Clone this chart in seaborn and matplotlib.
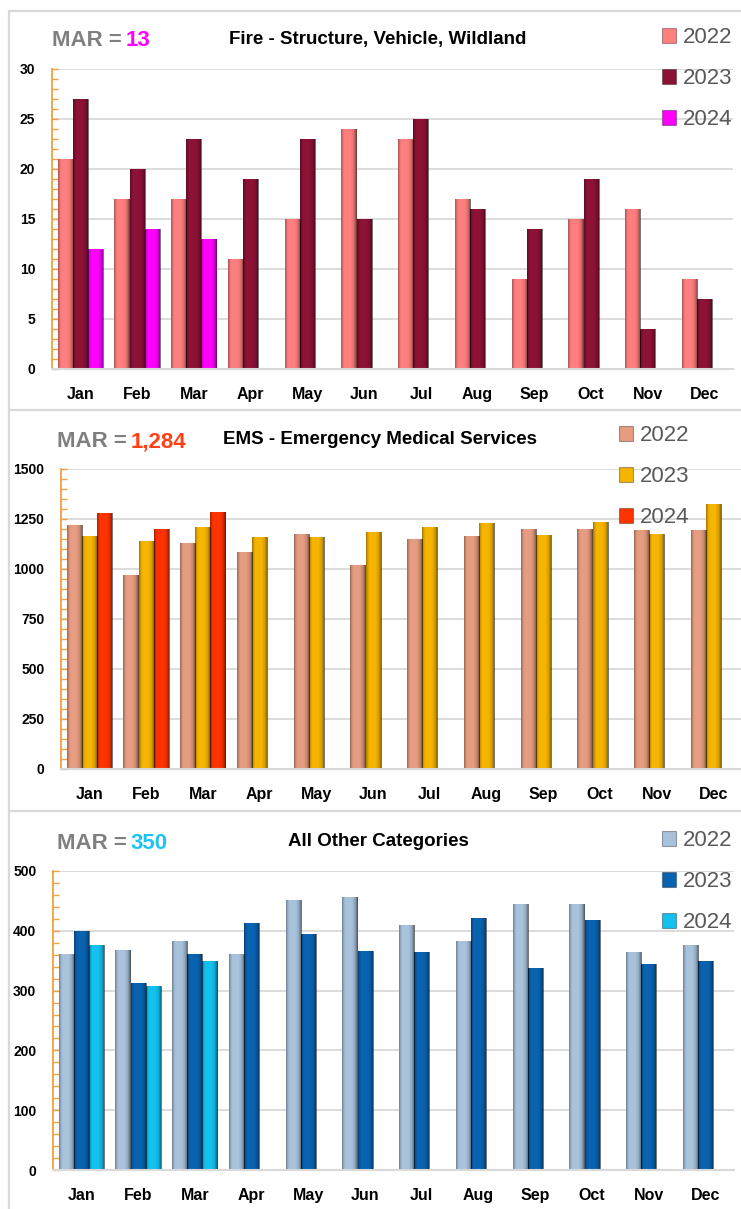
import numpy as np
import pandas as pd
import seaborn as sns
import matplotlib.pyplot as plt
from matplotlib.patches import Patch
from matplotlib.lines import Line2D
from matplotlib.ticker import MultipleLocator

# ---------------- data ----------------
months = ['Jan', 'Feb', 'Mar', 'Apr', 'May', 'Jun', 'Jul', 'Aug', 'Sep', 'Oct', 'Nov', 'Dec']
years = ['2022', '2023', '2024']

fire_2022 = [21, 17, 17, 11, 15, 24, 23, 17, 9, 15, 16, 9]
fire_2023 = [27, 20, 23, 19, 23, 15, 25, 16, 14, 19, 4, 7]
fire_2024 = [12, 14, 13]

ems_2022 = [1220, 972, 1130, 1083, 1175, 1018, 1150, 1165, 1200, 1200, 1193, 1195]
ems_2023 = [1165, 1142, 1212, 1160, 1160, 1183, 1210, 1230, 1168, 1233, 1177, 1325]
ems_2024 = [1278, 1200, 1284]

oth_2022 = [361, 368, 383, 361, 452, 456, 409, 383, 445, 445, 364, 377]
oth_2023 = [400, 313, 361, 413, 395, 366, 364, 421, 337, 418, 345, 350]
oth_2024 = [376, 307, 350]

fire_titles = ('Fire - Structure, Vehicle, Wildland', 'MAR =', '13')
ems_titles = ('EMS - Emergency Medical Services', 'MAR =', '1,284')
oth_titles = ('All Other Categories', 'MAR =', '350')


def long_df(s22, s23, s24):
    rows = []
    for yr, ser in zip(years, (s22, s23, s24)):
        for m, v in zip(months, ser):
            rows.append({'Month': m, 'Year': yr, 'Value': v})
    return pd.DataFrame(rows)


# ---------------- style ----------------
sns.set_theme(style='white')
plt.rcParams['font.family'] = ['Liberation Sans', 'DejaVu Sans']

W, H = 741, 1209
fig = plt.figure(figsize=(W / 100, H / 100), dpi=100)


def fx(px):
    return px / W


def fy(py):
    return 1 - py / H


panels = [
    dict(df=long_df(fire_2022, fire_2023, fire_2024), titles=fire_titles,
         colors=['#ff7f7f', '#8c1236', '#ff00ff'],
         valcolor='#ff00ff', box=(52, 733, 69, 369), ylim=30, major=5, minor=1,
         mar_x=52, mar_base=46, title_x=378, title_base=44,
         leg=(662, 27)),
    dict(df=long_df(ems_2022, ems_2023, ems_2024), titles=ems_titles,
         colors=['#e59c80', '#f5b400', '#ff3300'],
         valcolor='#ff4015', box=(61, 742, 469, 769), ylim=1500, major=250, minor=50,
         mar_x=57, mar_base=447, title_x=380, title_base=444,
         leg=(619, 425)),
    dict(df=long_df(oth_2022, oth_2023, oth_2024), titles=oth_titles,
         colors=['#a9c2dc', '#0a63b0', '#14c0ee'],
         valcolor='#1ec3f5', box=(53, 734, 871, 1170), ylim=500, major=100, minor=20,
         mar_x=57, mar_base=849, title_x=378, title_base=846,
         leg=(662, 830)),
]

# panel frames
frame_c = '#d9d9d9'
for y in (10.5, 410, 811):
    fig.add_artist(Line2D([fx(9), fx(745)], [fy(y), fy(y)], color=frame_c, lw=1.6,
                          transform=fig.transFigure))
fig.add_artist(Line2D([fx(9), fx(9)], [fy(10.5), fy(1212)], color=frame_c, lw=1.6,
                      transform=fig.transFigure))

shade = np.zeros((1, 40, 4))
prof = np.interp(np.linspace(0, 1, 40), [0, 0.08, 0.2, 0.6, 0.8, 0.92, 1.0],
                 [0.35, 0.15, 0.0, 0.0, 0.12, 0.35, 0.6])
shade[0, :, 3] = prof

for p in panels:
    l, r, t, b = p['box']
    ax = fig.add_axes([fx(l), fy(b), (r - l) / W, (b - t) / H])
    sns.barplot(data=p['df'], x='Month', y='Value', hue='Year', order=months,
                hue_order=years, palette=p['colors'], errorbar=None, width=0.8,
                ax=ax, legend=False, linewidth=0, saturation=1)
    # bevel shading over each bar, using the bar's own extent
    for cont in ax.containers:
        for bar in cont:
            x0, y0 = bar.get_x(), bar.get_y()
            w, h = bar.get_width(), bar.get_height()
            if not np.isfinite(h) or h == 0:
                continue
            im = ax.imshow(shade, extent=(x0, x0 + w, y0, y0 + h), aspect='auto',
                           interpolation='bilinear', zorder=bar.get_zorder() + 0.1)
            im.set_clip_path(bar)
    ax.set_xlim(-0.5, 11.5)
    ax.set_ylim(0, p['ylim'])
    ax.set_xlabel('')
    ax.set_ylabel('')
    ax.yaxis.set_major_locator(MultipleLocator(p['major']))
    ax.yaxis.set_minor_locator(MultipleLocator(p['minor']))
    ax.grid(axis='y', which='major', color='#d9d9d9', lw=1.3)
    ax.set_axisbelow(True)
    for s in ('top', 'right'):
        ax.spines[s].set_visible(False)
    ax.spines['left'].set_color('#f0a040')
    ax.spines['left'].set_linewidth(1.3)
    ax.spines['bottom'].set_color('#d9d9d9')
    ax.spines['bottom'].set_linewidth(1.5)
    ax.tick_params(axis='y', which='both', direction='in', color='#f0a040',
                   left=True, width=1.0)
    ax.tick_params(axis='y', which='major', length=4, pad=12,
                   labelsize=10, labelcolor='black')
    ax.tick_params(axis='y', which='minor', length=4)
    ax.tick_params(axis='x', length=0, pad=13, labelsize=11.5, labelcolor='black')
    for lab in ax.get_yticklabels() + ax.get_xticklabels():
        lab.set_fontweight('bold')
    ax.set_facecolor('white')
    ax.patch.set_alpha(0)

    title, mar, val = p['titles']
    t1 = fig.text(fx(p['mar_x']), fy(p['mar_base']), mar, ha='left', va='baseline',
                  fontsize=16, fontweight='bold', color='#7f7f7f')
    ax.annotate(val, xy=(1, 0), xycoords=t1, xytext=(3, 0), textcoords='offset points',
                ha='left', va='bottom', fontsize=16, fontweight='bold',
                color=p['valcolor'], annotation_clip=False)
    fig.text(fx(p['title_x']), fy(p['title_base']), title, ha='center', va='baseline',
             fontsize=13.5, fontweight='bold', color='black')

    handles = [Patch(facecolor=c, edgecolor='#00000055', lw=0.8) for c in p['colors']]
    lx, ly = p['leg']
    ax.legend(handles=handles, labels=years, loc='upper left',
              bbox_to_anchor=(fx(lx), fy(ly)), bbox_transform=fig.transFigure,
              frameon=False, fontsize=16, labelcolor='#595959', handlelength=0.65,
              handleheight=0.65, handletextpad=0.3, labelspacing=0.9,
              borderpad=0, borderaxespad=0)

fig.savefig('out.png', dpi=100, facecolor='white')
